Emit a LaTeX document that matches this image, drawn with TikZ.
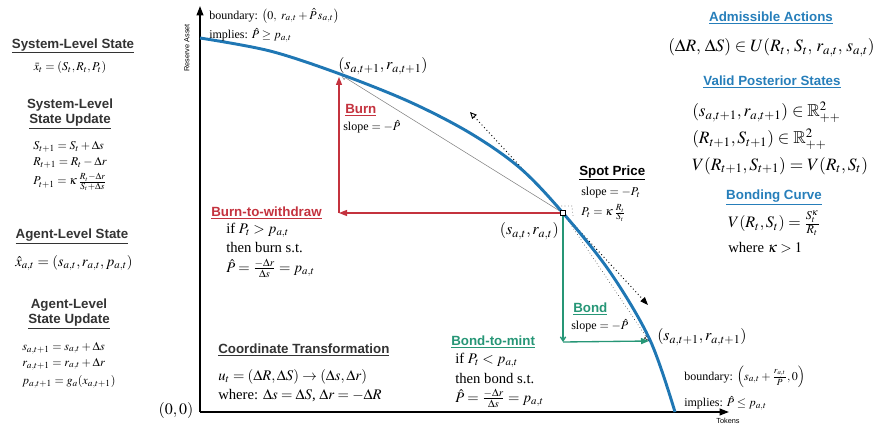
\documentclass[tikz,border=0pt]{standalone}
\usepackage{mathptmx}
\usepackage{amssymb}
\usepackage{fontspec}
\setmainfont{Liberation Serif}
\newfontfamily\hdfont{Liberation Sans}
\usetikzlibrary{arrows.meta}
\definecolor{cblue}{RGB}{31,119,180}
\definecolor{hblue}{RGB}{38,126,186}
\definecolor{cred}{RGB}{196,50,62}
\definecolor{cgreen}{RGB}{38,150,118}
\definecolor{hgray}{RGB}{51,51,51}
\begin{document}
\begin{tikzpicture}[x=0.75pt,y=-0.75pt,
  hd/.style={inner sep=0pt, text=hgray, font=\hdfont\bfseries\fontsize{10}{11.5}\selectfont},
  sm/.style={inner sep=0pt, font=\fontsize{9}{11}\selectfont},
  mid/.style={inner sep=0pt, font=\fontsize{11}{13}\selectfont},
  pt/.style={inner sep=0pt, font=\fontsize{12}{14}\selectfont},
  rc/.style={inner sep=0pt, font=\fontsize{13}{15}\selectfont},
  axl/.style={inner sep=0pt, font=\hdfont\fontsize{5.5}{6}\selectfont},
  axis/.style={line width=1.3pt, -{Triangle[length=7pt,width=5pt]}},
  curvestyle/.style={line width=2.2pt, cblue},
  redarr/.style={cred, line width=1pt, -{Triangle[length=6pt,width=4.5pt]}},
  greenarr/.style={cgreen, line width=1pt, -{Triangle[length=6pt,width=4.5pt]}},
  greenstub/.style={cgreen, line width=1pt, -{Straight Barb[length=3pt,width=4pt]}},
  chord/.style={line width=0.4pt, -{Triangle[open,length=4pt,width=4pt]}},
  tangent/.style={dotted, line width=0.7pt, {Triangle[open,length=5pt,width=4.5pt]}-{Triangle[length=6pt,width=4.5pt]}}
]
\useasboundingbox (0,0) rectangle (879,428);

% axes
\coordinate (O) at (200,412);
\coordinate (Ytop) at (200,6);
\coordinate (Xend) at (729,412);
\draw[axis] (O) -- (Ytop);
\draw[axis] (O) -- (Xend);
\node[axl, rotate=90] (ylab) at (187,48) {Reserve Asset};
\node[axl] (xlab) at (728,421) {Tokens};
\node[pt] (orig) at (176,410) {$(0,0)$};

% key points
\coordinate (A) at (563,213);
\coordinate (B) at (341,75);
\coordinate (C) at (649,341);
\coordinate (Rc) at (339,213);
\coordinate (Rt) at (339,77);
\coordinate (Gc) at (563,342);
\coordinate (T1) at (470,112);
\coordinate (T2) at (648,305);

% chords and tangent
\draw[chord, gray] (A) -- (B);
\draw[chord, dotted] (A) -- (C);
\draw[tangent] (T1) -- (T2);
\draw[dotted, gray!70!black, line width=0.5pt] (558,206) -- (572,206) -- (573,216);

% bonding curve
\draw[curvestyle] plot[smooth, tension=0.55] coordinates {(200,38) (270,51) (340,74) (410,102) (470,133) (520,168) (563,213) (610,272) (650,340) (675,412)};

% red burn path
\draw[redarr] (A) -- (Rc);
\draw[redarr] (Rc) -- (Rt);
% green bond path
\draw[greenstub] (A) -- (Gc);
\draw[greenarr] (Gc) -- (C);

\node[draw, fill=white, line width=0.8pt, minimum size=4pt, inner sep=0pt] (Am) at (A) {};

% left column
\node[hd] (h1) at (73,46) {\underline{System-Level State}};
\node[sm] (e1) at (70,68) {$\bar{x}_t=(S_t,R_t,P_t)$};
\node[hd, align=center] (h2) at (70,114) {System-Level\\\underline{State Update}};
\node[sm, anchor=west] (e2) at (33,147) {$S_{t+1}=S_t+\Delta s$};
\node[sm, anchor=west] (e3) at (33,163) {$R_{t+1}=R_t-\Delta r$};
\node[sm, anchor=west] (e4) at (33,182) {$P_{t+1}=\kappa\,\frac{R_t-\Delta r}{S_t+\Delta s}$};
\node[hd] (h3) at (72,236) {\underline{Agent-Level State}};
\node[mid, anchor=west] (e5) at (15,263) {$\hat{x}_{a,t}=(s_{a,t},r_{a,t},p_{a,t})$};
\node[hd, align=center] (h4) at (69,314) {Agent-Level\\\underline{State Update}};
\node[sm, anchor=west] (e6) at (22,348) {$s_{a,t+1}=s_{a,t}+\Delta s$};
\node[sm, anchor=west] (e7) at (22,364) {$r_{a,t+1}=r_{a,t}+\Delta r$};
\node[sm, anchor=west] (e8) at (22,382) {$p_{a,t+1}=g_a(x_{a,t+1})$};

% top middle
\node[sm, anchor=west] (bd1) at (209,16) {boundary: $\bigl(0,\ r_{a,t}+\hat P\, s_{a,t}\bigr)$};
\node[sm, anchor=west] (im1) at (209,35) {implies: $\hat P\geq p_{a,t}$};
\node[pt, anchor=west] (Blab) at (338,66) {$(s_{a,t+1},r_{a,t+1})$};
\node[hd, text=cred, anchor=west] (burn) at (345,110) {\underline{Burn}};
\node[sm, anchor=west] (bsl) at (343,127) {slope $=-\hat P$};

% burn to withdraw
\node[hd, text=cred, anchor=west] (btw) at (211,213) {\underline{Burn-to-withdraw}};
\node[mid, anchor=west] (btw1) at (226,230) {if $P_t>p_{a,t}$};
\node[mid, anchor=west] (btw2) at (226,248) {then burn s.t.};
\node[mid, anchor=west] (btw3) at (226,268) {$\hat P=\frac{-\Delta r}{\Delta s}=p_{a,t}$};

% spot price
\node[pt, anchor=east] (Alab) at (559,231) {$(s_{a,t},r_{a,t})$};
\node[hd, text=black, anchor=west] (spot) at (579,173) {\underline{Spot Price}};
\node[sm, anchor=west] (ssl) at (581,193) {slope $=-P_t$};
\node[sm, anchor=west] (spf) at (581,213) {$P_t=\kappa\,\frac{R_t}{S_t}$};

% bond
\node[hd, text=cgreen, anchor=west] (bond) at (573,309) {\underline{Bond}};
\node[sm, anchor=west] (bosl) at (571,326) {slope $=-\hat P$};
\node[pt, anchor=west] (Clab) at (657,337) {$(s_{a,t+1},r_{a,t+1})$};
\node[sm, anchor=west] (bd2) at (684,377) {boundary: $\left(s_{a,t}+\frac{r_{a,t}}{\hat P},0\right)$};
\node[sm, anchor=west] (im2) at (684,403) {implies: $\hat P\leq p_{a,t}$};

% bond to mint
\node[hd, text=cgreen, anchor=west] (btm) at (451,342) {\underline{Bond-to-mint}};
\node[mid, anchor=west] (btm1) at (455,360) {if $P_t<p_{a,t}$};
\node[mid, anchor=west] (btm2) at (455,379) {then bond s.t.};
\node[mid, anchor=west] (btm3) at (455,398) {$\hat P=\frac{-\Delta r}{\Delta s}=p_{a,t}$};

% coordinate transformation
\node[hd, anchor=west] (ct) at (218,350) {\underline{Coordinate Transformation}};
\node[mid, anchor=west] (ct1) at (218,377) {$u_t=(\Delta R,\Delta S)\rightarrow(\Delta s,\Delta r)$};
\node[mid, anchor=west] (ct2) at (218,396) {where: $\Delta s=\Delta S$, $\Delta r=-\Delta R$};

% right column
\node[hd, text=hblue] (adm) at (771,18) {\underline{Admissible Actions}};
\node[rc, anchor=west] (adm1) at (668,48) {$(\Delta R,\,\Delta S)\in U(R_t,\,S_t,\,r_{a,t},\,s_{a,t})$};
\node[hd, text=hblue] (vps) at (772,82) {\underline{Valid Posterior States}};
\node[rc, anchor=west] (vps1) at (692,112) {$(s_{a,t+1},r_{a,t+1})\in\mathbb{R}^2_{++}$};
\node[rc, anchor=west] (vps2) at (692,139) {$(R_{t+1},S_{t+1})\in\mathbb{R}^2_{++}$};
\node[rc, anchor=west] (vps3) at (692,166) {$V(R_{t+1},S_{t+1})=V(R_t,S_t)$};
\node[hd, text=hblue] (bc) at (774,197) {\underline{Bonding Curve}};
\node[pt, anchor=west] (bc1) at (728,223) {$V(R_t,S_t)=\frac{S_t^\kappa}{R_t}$};
\node[mid, anchor=west] (bc2) at (728,248) {where $\kappa>1$};
\end{tikzpicture}
\end{document}
